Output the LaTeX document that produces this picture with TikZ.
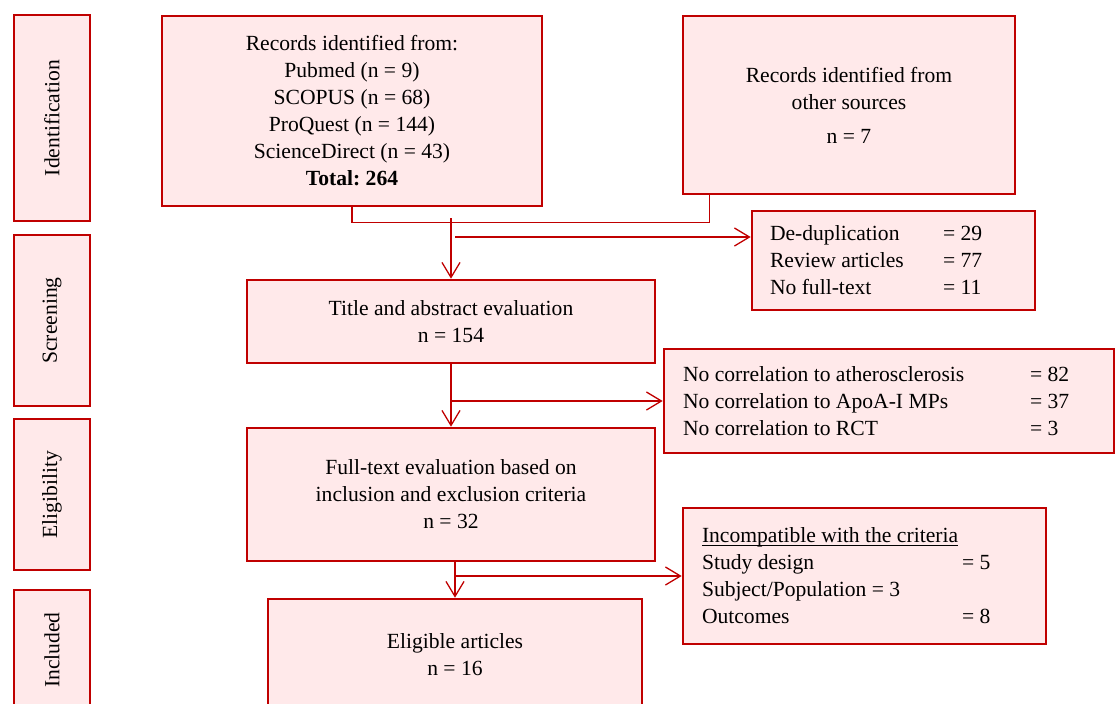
\documentclass[tikz,border=0pt]{standalone}
\usepackage{fontspec}
\setmainfont{Liberation Serif}
\usetikzlibrary{arrows.meta,calc}
\definecolor{bordred}{HTML}{C00000}
\definecolor{boxfill}{HTML}{FFE9EA}
\newcommand{\tightul}[1]{\sbox0{#1}\rlap{\rule[-1.4pt]{\wd0}{0.55pt}}\usebox0}
\frenchspacing
\begin{document}
\begin{tikzpicture}[x=0.5pt,y=-0.5pt,
  box/.style={draw=bordred, fill=boxfill, line width=1.3pt, font=\fontsize{10.8}{13.5}\selectfont\frenchspacing, inner sep=0pt, align=flush center},
  lbox/.style={box, align=flush left},
  conn/.style={draw=bordred, line width=0.65pt},
  arr/.style={conn, -{Straight Barb[length=7.5pt,width=9pt,line width=0.65pt]}}]
\useasboundingbox (0,0) rectangle (1115,703);

% stage labels
\node[box, rotate=90, minimum width=103pt, minimum height=38pt] (ident) at (52,118) {Identification};
\node[box, rotate=90, minimum width=85.5pt, minimum height=38pt] (screen) at (52,320.5) {Screening};
\node[box, rotate=90, minimum width=75.5pt, minimum height=38pt] (elig) at (52,494.5) {Eligibility};
\node[box, rotate=90, minimum width=60pt, minimum height=38pt] (incl) at (52,650) {Included};

% main boxes
\node[box, minimum width=190pt, minimum height=95pt] (rec) at (352,111)
  {Records identified from:\\ Pubmed (n = 9)\\ SCOPUS (n = 68)\\ ProQuest (n = 144)\\ ScienceDirect (n = 43)\\ \textbf{Total: 264}};
\node[box, minimum width=166pt, minimum height=89pt] (other) at (849,105)
  {Records identified from\\ other sources\\[3.5pt] n = 7};
\node[lbox, minimum width=141.5pt, minimum height=49.5pt, text width=123.5pt, inner xsep=9pt] (dedup) at (893.5,260.5)
  {\makebox[86.5pt][l]{De-duplication}= 29\\ \makebox[86.5pt][l]{Review articles}= 77\\ \makebox[86.5pt][l]{No full-text}= 11};
\node[box, minimum width=204pt, minimum height=41.5pt] (title) at (451,321.5)
  {Title and abstract evaluation\\ n = 154};
\node[lbox, minimum width=225pt, minimum height=52pt, text width=206pt, inner xsep=9.5pt] (nocorr) at (889,401)
  {\makebox[173.5pt][l]{No correlation to atherosclerosis}= 82\\ \makebox[173.5pt][l]{No correlation to ApoA-I MPs}= 37\\ \makebox[173.5pt][l]{No correlation to RCT}= 3};
\node[box, minimum width=204pt, minimum height=66.5pt] (fulltext) at (451,494.5)
  {Full-text evaluation based on\\ inclusion and exclusion criteria\\ n = 32};
\node[lbox, minimum width=181.5pt, minimum height=68pt, text width=162.5pt, inner xsep=9.5pt] (incomp) at (864.5,576)
  {\tightul{Incompatible with the criteria}\\ \makebox[130pt][l]{Study design}= 5\\ Subject/Population = 3\\ \makebox[130pt][l]{Outcomes}= 8};
\node[box, minimum width=187pt, minimum height=55.5pt] (eligible) at (455,654.5)
  {Eligible articles\\ n = 16};

% connectors
\draw[conn] (rec.south) -- ($(rec.south)+(0,15)$) -| ($(other.south west)+(28,0)$);
\coordinate (j1) at (451,218);
\draw[arr] (j1) -- (title.north);
\coordinate (b1) at (455,237);
\draw[arr] (b1) -- (b1 -| dedup.west);
\draw[arr] (title.south) -- (fulltext.north);
\draw[arr] (title.south |- nocorr.west) -- (nocorr.west);
\draw[arr] (eligible.north |- fulltext.south) -- (eligible.north);
\draw[arr] (eligible.north |- incomp.west) -- (incomp.west);
\end{tikzpicture}
\end{document}
